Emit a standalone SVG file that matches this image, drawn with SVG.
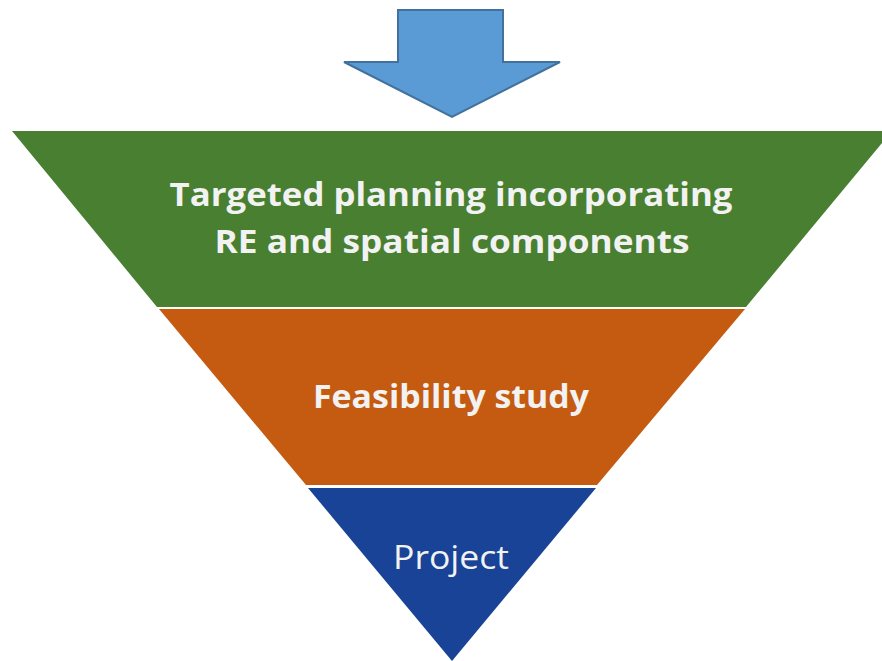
<svg xmlns="http://www.w3.org/2000/svg" width="882" height="661" viewBox="0 0 882 661">
<style>
.lbl{font-family:"Open Sans","Liberation Sans",sans-serif;fill:#F2F2F2;text-anchor:middle}
.b{font-weight:bold;font-size:32px}
.r{font-weight:normal;font-size:33px}
</style>
<rect width="882" height="661" fill="#FFFFFF"/>
<g id="arrow">
<polygon points="398,10 503,10 503,62 560,62 452,117 344,62 398,62" fill="#5B9BD5" stroke="#41719C" stroke-width="2" stroke-linejoin="miter"/>
</g>
<g id="node-planning">
<polygon points="12,131 892,131 746,307 157,307" fill="#487F30"/>
<text class="lbl b" x="451" y="206" textLength="563" lengthAdjust="spacingAndGlyphs">Targeted planning incorporating</text>
<text class="lbl b" x="452" y="253" textLength="475" lengthAdjust="spacingAndGlyphs">RE and spatial components</text>
</g>
<g id="node-feasibility">
<polygon points="159,309 745,309 597,485 306,485" fill="#C55A11"/>
<text class="lbl b" x="451" y="408" textLength="276" lengthAdjust="spacingAndGlyphs">Feasibility study</text>
</g>
<g id="node-project">
<polygon points="308,488 596,488 452,661" fill="#184397"/>
<text class="lbl r" x="451" y="569" textLength="116" lengthAdjust="spacingAndGlyphs">Project</text>
</g>
<g id="connectors"></g>
</svg>
